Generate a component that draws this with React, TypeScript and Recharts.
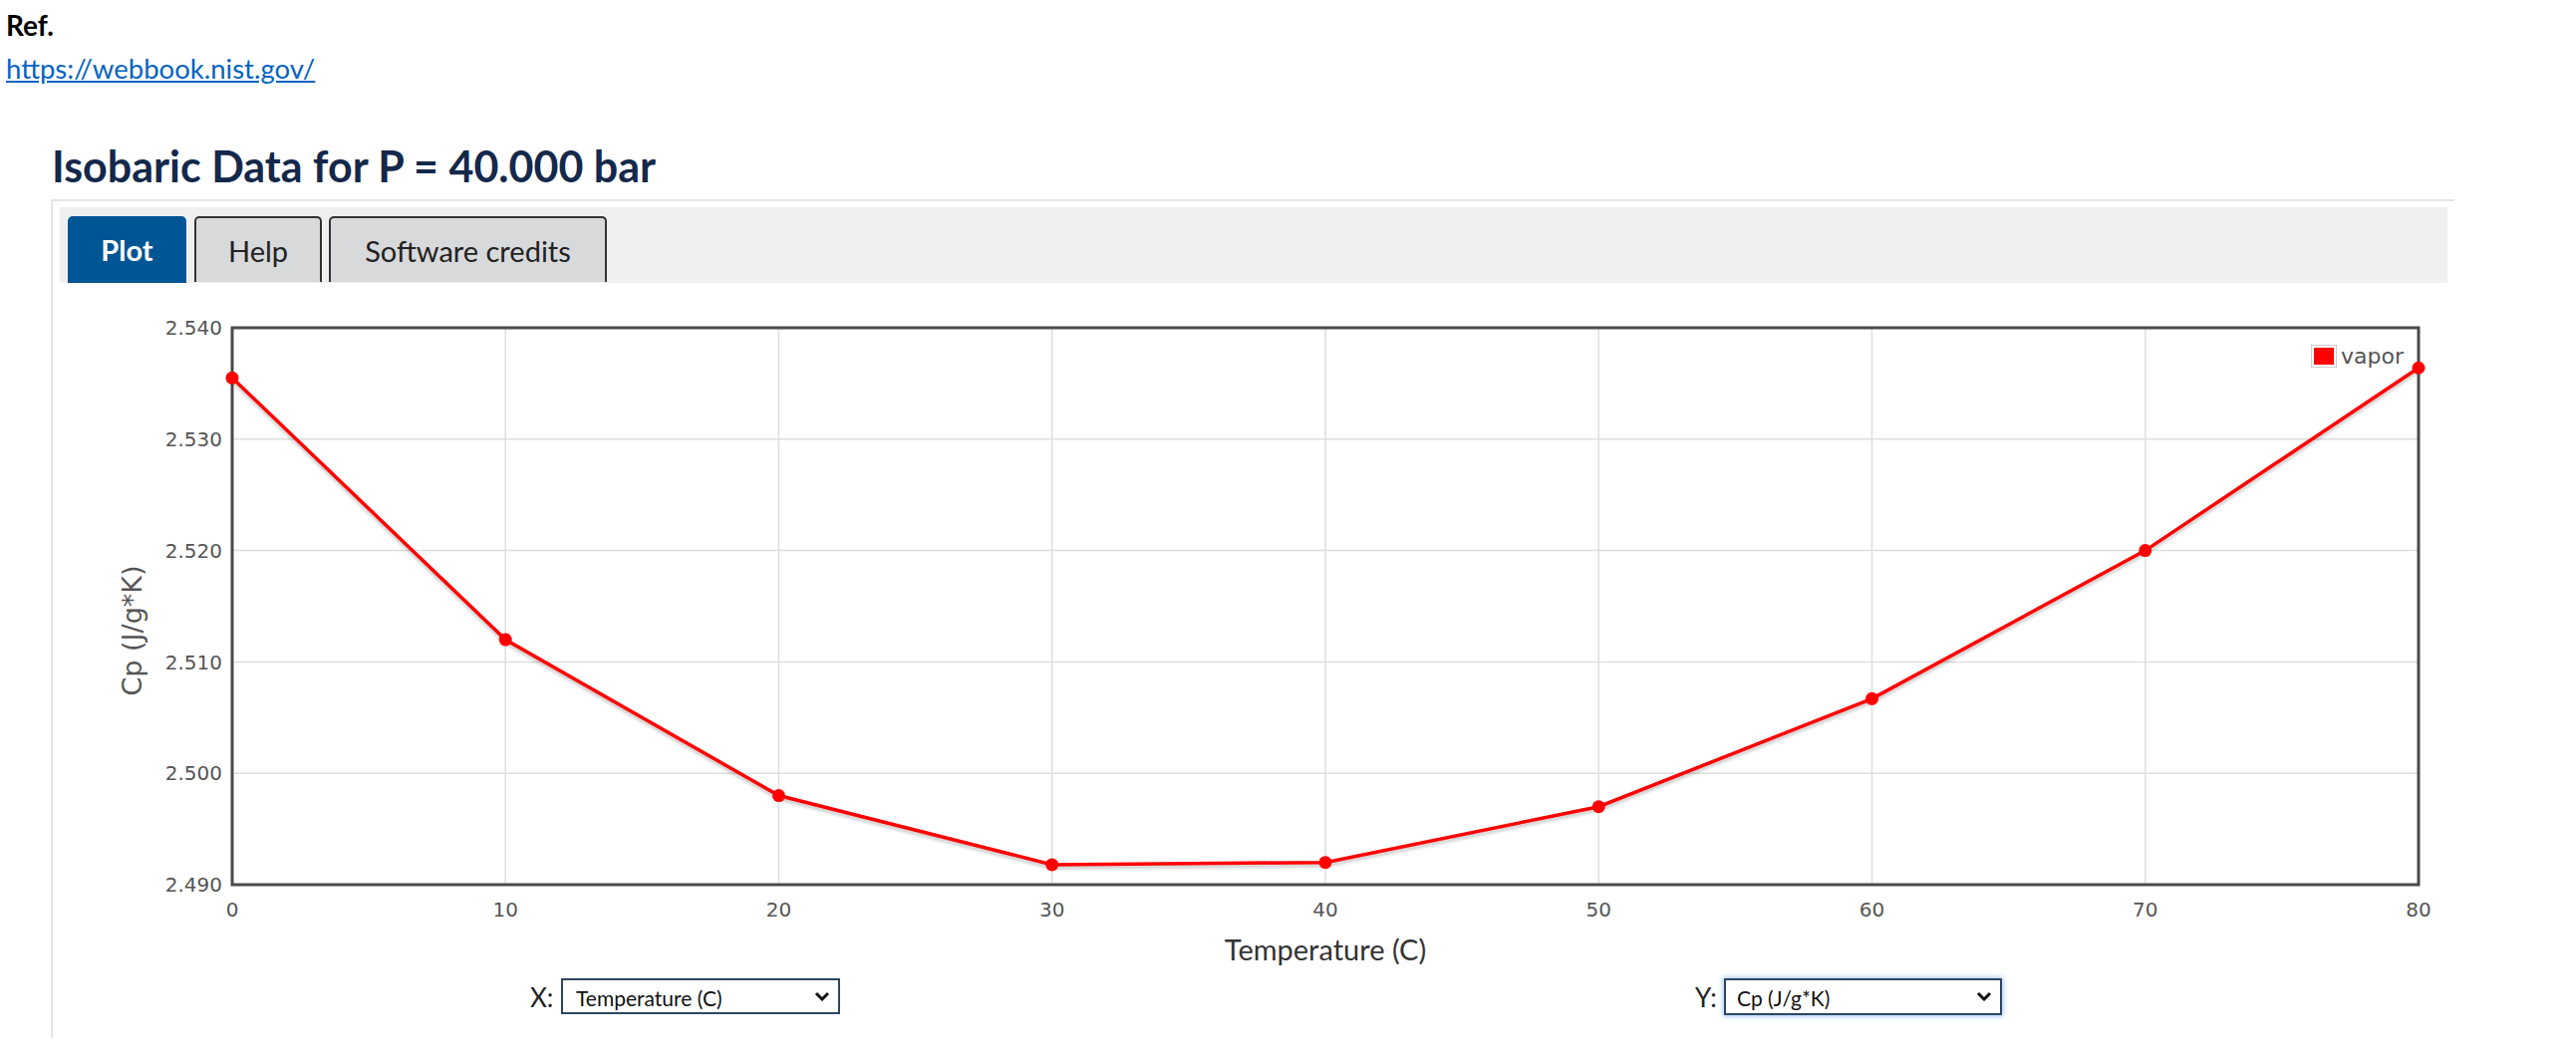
import React from "react";
import {
  LineChart,
  Line,
  XAxis,
  YAxis,
  CartesianGrid,
  ReferenceArea,
  Legend,
} from "recharts";

// Isobaric data, P = 40.000 bar (vapor)
const temperatures = [0, 10, 20, 30, 40, 50, 60, 70, 80];
const cpVapor = [2.5355, 2.512, 2.498, 2.4918, 2.492, 2.497, 2.5067, 2.52, 2.5364];
const xTicks = [0, 10, 20, 30, 40, 50, 60, 70, 80];
const yTicks = [2.49, 2.5, 2.51, 2.52, 2.53, 2.54];
const seriesName = "vapor";

const data = temperatures.map((t, i) => ({ t, cp: cpVapor[i] }));

const tickStyle = { fontSize: 20, fill: "#555", fontFamily: "DejaVu Sans" };

function VaporLegend() {
  return (
    <div style={{ display: "flex", alignItems: "center", fontFamily: "DejaVu Sans" }}>
      <div style={{ border: "1px solid #ccc", padding: "2px 2px", lineHeight: 0 }}>
        <div style={{ width: 20, height: 17, background: "#ff0000" }} />
      </div>
      <span style={{ fontSize: 22, color: "#555", marginLeft: 4, lineHeight: 1 }}>{seriesName}</span>
    </div>
  );
}

function Tab({ left, width, label, active }: { left: number; width: number; label: string; active?: boolean }) {
  return (
    <div
      style={{
        position: "absolute",
        left,
        top: 217,
        width,
        height: active ? 67 : 66,
        boxSizing: "border-box",
        background: active ? "#005595" : "#d8d9db",
        border: active ? "none" : "2px solid #333",
        borderBottom: "none",
        borderRadius: "5px 5px 0 0",
        color: active ? "#fff" : "#222",
        fontSize: 29,
        fontWeight: active ? 700 : 400,
        display: "flex",
        alignItems: "center",
        justifyContent: "center",
      }}
    >
      {label}
    </div>
  );
}

function Chevron({ left, top }: { left: number; top: number }) {
  return (
    <svg style={{ position: "absolute", left, top }} width={16} height={10}>
      <polyline points="2,2 8,8 14,2" fill="none" stroke="#111" strokeWidth={3} />
    </svg>
  );
}

export default function App() {
  return (
    <div
      style={{
        position: "relative",
        width: 2585,
        height: 1065,
        background: "#fff",
        overflow: "hidden",
        fontFamily: "Lato",
      }}
    >
      <style>{`body{margin:0} .vapor-line .recharts-line-curve{filter:drop-shadow(0 3px 1.5px rgba(0,0,0,0.2));}`}</style>

      <div style={{ position: "absolute", left: 6, top: 11, fontSize: 28, fontWeight: 700, lineHeight: 1, color: "#000" }}>
        Ref.
      </div>
      <a
        href="https://webbook.nist.gov/"
        style={{ position: "absolute", left: 6, top: 55, fontSize: 27.5, lineHeight: 1, color: "#0563c1" }}
      >
        https://webbook.nist.gov/
      </a>

      <div style={{ position: "absolute", left: 52, top: 145, fontSize: 43, fontWeight: 700, lineHeight: 1, color: "#14284b" }}>
        Isobaric Data for P = 40.000 bar
      </div>

      {/* panel outline + tab bar */}
      <div style={{ position: "absolute", left: 51, top: 200, width: 2410, height: 840, borderLeft: "2px solid #e4e4e4", borderTop: "2px solid #e4e4e4" }} />
      <div style={{ position: "absolute", left: 60, top: 208, width: 2396, height: 76, background: "#efefef" }} />
      <Tab left={68} width={119} label="Plot" active />
      <Tab left={195} width={128} label="Help" />
      <Tab left={330} width={279} label="Software credits" />

      <div style={{ position: "absolute", left: 100, top: 300 }}>
        <LineChart width={2400} height={700} data={data} margin={{ top: 29, right: 73, bottom: 72, left: 0 }}>
          <CartesianGrid stroke="#dedede" strokeWidth={1.5} />
          <XAxis
            type="number"
            dataKey="t"
            domain={[0, 80]}
            ticks={xTicks}
            tick={tickStyle}
            axisLine={false}
            tickLine={false}
            tickSize={8}
            tickMargin={10}
            height={40}
          />
          <YAxis
            type="number"
            domain={[2.49, 2.54]}
            ticks={yTicks}
            tick={tickStyle}
            tickFormatter={(v: number) => v.toFixed(3)}
            axisLine={false}
            tickLine={false}
            tickSize={8}
            tickMargin={2}
            width={133}
          />
          <ReferenceArea x1={0} x2={80} y1={2.49} y2={2.54} fill="none" stroke="#4a4a4a" strokeWidth={3} ifOverflow="visible" />
          <Legend
            layout="horizontal"
            align="center"
            verticalAlign="middle"
            content={() => <VaporLegend />}
            wrapperStyle={{ position: "absolute", left: 2219, top: 46, width: "auto", height: "auto" }}
          />
          <Line
            className="vapor-line"
            type="linear"
            dataKey="cp"
            name={seriesName}
            stroke="#ff0000"
            strokeWidth={3.5}
            dot={{ r: 6.5, fill: "#ff0000", stroke: "#ff0000", strokeWidth: 0 }}
            isAnimationActive={false}
          />
        </LineChart>
      </div>

      {/* axis titles */}
      <div
        style={{
          position: "absolute",
          left: 132,
          top: 633,
          transform: "translate(-50%, -50%) rotate(-90deg)",
          fontFamily: "DejaVu Sans",
          fontSize: 27,
          color: "#555",
          whiteSpace: "nowrap",
          lineHeight: 1,
        }}
      >
        Cp (J/g*K)
      </div>
      <div
        style={{
          position: "absolute",
          left: 1330,
          top: 938,
          transform: "translateX(-50%)",
          fontSize: 29,
          color: "#333",
          whiteSpace: "nowrap",
          lineHeight: 1,
        }}
      >
        Temperature (C)
      </div>

      {/* axis selectors */}
      <div style={{ position: "absolute", left: 532, top: 988, fontSize: 26, lineHeight: 1, color: "#222" }}>X:</div>
      <div
        style={{
          position: "absolute",
          left: 563,
          top: 982,
          width: 280,
          height: 36,
          boxSizing: "border-box",
          border: "2px solid #2c4663",
          background: "#fff",
        }}
      >
        <span style={{ position: "absolute", left: 13, top: 7, fontSize: 21, lineHeight: 1, color: "#111" }}>Temperature (C)</span>
      </div>
      <Chevron left={817} top={995} />

      <div style={{ position: "absolute", left: 1701, top: 988, fontSize: 26, lineHeight: 1, color: "#222" }}>Y:</div>
      <div
        style={{
          position: "absolute",
          left: 1730,
          top: 982,
          width: 279,
          height: 37,
          boxSizing: "border-box",
          border: "2px solid #2c4663",
          background: "#fff",
          boxShadow: "0 0 5px 1px rgba(80,150,230,0.55)",
        }}
      >
        <span style={{ position: "absolute", left: 11, top: 7, fontSize: 21, lineHeight: 1, color: "#111" }}>Cp (J/g*K)</span>
      </div>
      <Chevron left={1983} top={995} />
    </div>
  );
}
